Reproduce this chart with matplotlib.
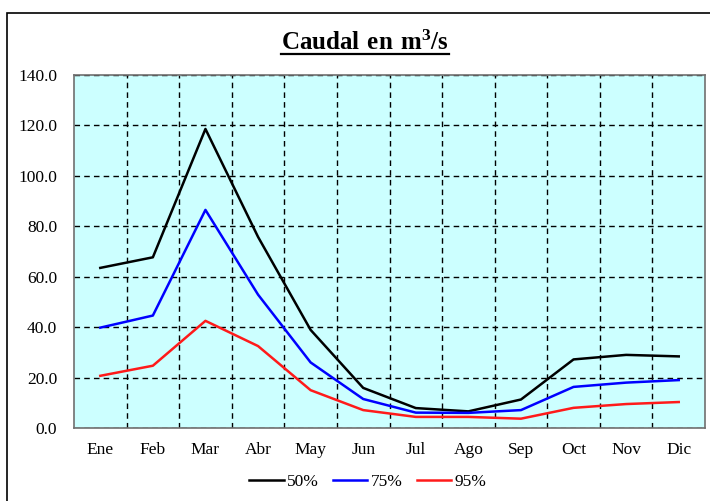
import matplotlib.pyplot as plt
from matplotlib.lines import Line2D
from matplotlib.patches import Rectangle
import numpy as np

# --- DATA ---
meses = ['Ene', 'Feb', 'Mar', 'Abr', 'May', 'Jun', 'Jul', 'Ago', 'Sep', 'Oct', 'Nov', 'Dic']
q50 = [63.5, 67.7, 118.6, 75.8, 38.9, 15.9, 7.9, 6.6, 11.3, 27.2, 29.0, 28.4]
q75 = [39.8, 44.6, 86.5, 52.9, 26.0, 11.5, 6.1, 6.0, 7.1, 16.3, 18.0, 19.0]
q95 = [20.7, 24.7, 42.5, 32.5, 15.0, 7.1, 4.4, 4.4, 3.7, 8.0, 9.5, 10.3]
series = [('50%', q50, 'black'), ('75%', q75, '#0000ff'), ('95%', q95, '#ff1a1a')]

plt.rcParams['font.family'] = ['Liberation Serif', 'DejaVu Serif']
plt.rcParams['mathtext.fontset'] = 'custom'
plt.rcParams['mathtext.rm'] = 'Liberation Serif'
plt.rcParams['mathtext.bf'] = 'Liberation Serif:bold'

fig = plt.figure(figsize=(7.1, 5.01), dpi=100)
ax = fig.add_axes([0.1042, 0.1457, 0.8888, 0.7046])

# outer chart frame
fig.patches.append(Rectangle((7 / 710, -0.05), 1.2, 1.05 - 13 / 501,
                             transform=fig.transFigure, fill=False,
                             edgecolor='black', linewidth=1.2))

x = np.arange(len(meses))
for name, vals, col in series:
    ax.plot(x, vals, color=col, lw=1.8, label=name)

ax.set_facecolor('#ccffff')
ax.set_xlim(-0.5, len(meses) - 0.5)
ax.set_ylim(0, 140)
ax.set_yticks(np.arange(0, 141, 20))
ax.set_yticklabels([f'{v:.1f}' for v in np.arange(0, 141, 20)])
ax.set_xticks(x)
ax.set_xticklabels(meses)
ax.set_xticks(np.arange(0.5, len(meses) - 1, 1), minor=True)
ax.tick_params(axis='both', which='both', length=0, labelsize=12.5)
ax.tick_params(axis='x', pad=10)
ax.tick_params(axis='y', pad=12)

ax.grid(axis='y', which='major', color='black', linestyle=(0, (4, 3)), lw=1)
ax.grid(axis='x', which='minor', color='black', linestyle=(0, (4, 3)), lw=1)
ax.grid(axis='x', which='major', visible=False)
for s in ax.spines.values():
    s.set_color('#707070')
    s.set_linewidth(1.2)

# title with underline
title = fig.text(0.514, 0.914, r'$\mathbf{Caudal\ en\ m^3/s}$', ha='center', va='center',
                 fontsize=18)
fig.canvas.draw()
bb = title.get_window_extent().transformed(fig.transFigure.inverted())
fig.lines.append(Line2D([bb.x0, bb.x1], [bb.y0 + 0.002, bb.y0 + 0.002],
                        transform=fig.transFigure, color='black', lw=1.6))

fig.legend(loc='center', bbox_to_anchor=(0.518, 0.038), ncol=3, frameon=False,
           fontsize=12.5, handlelength=2.0, handletextpad=0.2, columnspacing=0.8)

fig.savefig('out.png', dpi=100)
